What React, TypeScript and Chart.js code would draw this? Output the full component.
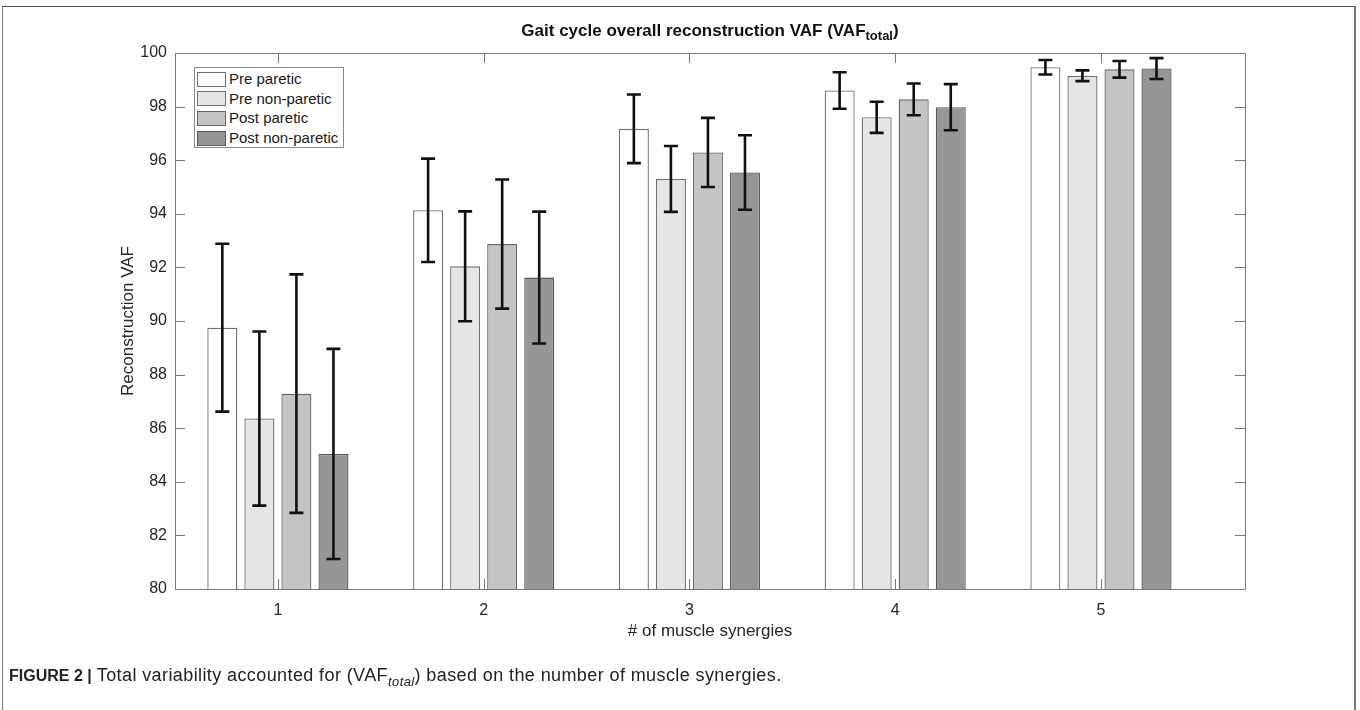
import React, { useEffect, useRef } from "react";
import { Chart, registerables } from "chart.js";

Chart.register(...registerables);

const categories = [1, 2, 3, 4, 5];
const seriesNames = ["Pre paretic", "Pre non-paretic", "Post paretic", "Post non-paretic"];
const seriesColors = ["#ffffff", "#e6e6e6", "#c4c4c4", "#969696"];
const seriesBorders = ["#707070", "#707070", "#666666", "#585858"];

const prePareticMean = [89.75, 94.13, 97.17, 98.6, 99.47];
const preNonPareticMean = [86.36, 92.04, 95.3, 97.6, 99.15];
const postPareticMean = [87.29, 92.87, 96.29, 98.27, 99.39];
const postNonPareticMean = [85.04, 91.62, 95.54, 97.98, 99.42];

const prePareticErr = [3.13, 1.93, 1.28, 0.68, 0.27];
const preNonPareticErr = [3.25, 2.05, 1.23, 0.58, 0.2];
const postPareticErr = [4.45, 2.41, 1.29, 0.59, 0.31];
const postNonPareticErr = [3.92, 2.46, 1.39, 0.86, 0.39];

const yTicks = [80, 82, 84, 86, 88, 90, 92, 94, 96, 98, 100];

const means = [prePareticMean, preNonPareticMean, postPareticMean, postNonPareticMean];
const errs = [prePareticErr, preNonPareticErr, postPareticErr, postNonPareticErr];

const FONT = "'Liberation Sans', Arial, Helvetica, sans-serif";

const errorBarPlugin = {
  id: "errorBars",
  afterDatasetsDraw(chart: any) {
    const ctx = chart.ctx;
    const y = chart.scales.y;
    ctx.save();
    ctx.strokeStyle = "#111111";
    ctx.lineWidth = 2.6;
    chart.data.datasets.forEach((ds: any, di: number) => {
      const meta = chart.getDatasetMeta(di);
      meta.data.forEach((el: any, i: number) => {
        const m = means[di][i];
        const e = errs[di][i];
        const x = el.x;
        const yt = y.getPixelForValue(m + e);
        const yb = y.getPixelForValue(m - e);
        const cap = 7;
        ctx.beginPath();
        ctx.moveTo(x, yt);
        ctx.lineTo(x, yb);
        ctx.moveTo(x - cap, yt);
        ctx.lineTo(x + cap, yt);
        ctx.moveTo(x - cap, yb);
        ctx.lineTo(x + cap, yb);
        ctx.stroke();
      });
    });
    ctx.restore();
  },
};

const axesBoxPlugin = {
  id: "axesBox",
  afterDraw(chart: any) {
    const ctx = chart.ctx;
    const a = chart.chartArea;
    const xs = chart.scales.x;
    const ys = chart.scales.y;
    const L = 10;
    ctx.save();
    ctx.strokeStyle = "#777777";
    ctx.lineWidth = 1;
    ctx.beginPath();
    ctx.rect(Math.round(a.left) + 0.5, Math.round(a.top) + 0.5, Math.round(a.right - a.left), Math.round(a.bottom - a.top));
    xs.ticks.forEach((t: any) => {
      const px = Math.round(xs.getPixelForValue(t.value)) + 0.5;
      ctx.moveTo(px, a.bottom);
      ctx.lineTo(px, a.bottom - L);
      ctx.moveTo(px, a.top);
      ctx.lineTo(px, a.top + L);
    });
    ys.ticks.forEach((t: any) => {
      const py = Math.round(ys.getPixelForValue(t.value)) + 0.5;
      ctx.moveTo(a.left, py);
      ctx.lineTo(a.left + L, py);
      ctx.moveTo(a.right, py);
      ctx.lineTo(a.right - L, py);
    });
    ctx.stroke();
    ctx.restore();
  },
};

function Legend() {
  return (
    <div
      style={{
        position: "absolute",
        left: 194,
        top: 67,
        width: 150,
        height: 81,
        border: "1px solid #8a8a8a",
        background: "#ffffff",
        boxSizing: "border-box",
        fontFamily: FONT,
        fontSize: 15,
        color: "#1a1a1a",
      }}
    >
      {seriesNames.map((n, i) => (
        <div key={n} style={{ position: "absolute", left: 2, top: 2 + i * 19.7, height: 18, display: "flex", alignItems: "center" }}>
          <span
            style={{
              display: "inline-block",
              width: 29,
              height: 15,
              background: seriesColors[i],
              border: `1px solid ${seriesBorders[i]}`,
              boxSizing: "border-box",
              marginRight: 3,
            }}
          />
          <span style={{ whiteSpace: "nowrap", lineHeight: "18px" }}>{n}</span>
        </div>
      ))}
    </div>
  );
}

export default function App() {
  const canvasRef = useRef<HTMLCanvasElement | null>(null);

  useEffect(() => {
    if (!canvasRef.current) return;
    const chart = new Chart(canvasRef.current, {
      type: "bar",
      data: {
        datasets: seriesNames.map((name, si) => ({
          label: name,
          data: categories.map((c, i) => ({ x: c, y: means[si][i] })),
          backgroundColor: seriesColors[si],
          borderColor: seriesBorders[si],
          borderWidth: 1.3,
          borderSkipped: false,
          categoryPercentage: 0.72,
          barPercentage: 0.81,
        })),
      },
      options: {
        animation: false,
        responsive: false,
        maintainAspectRatio: false,
        layout: { padding: { left: 115, right: 115, top: 53, bottom: 68 } },
        plugins: {
          legend: { display: false },
          tooltip: { enabled: false },
          title: { display: false },
        },
        scales: {
          x: {
            type: "linear",
            min: 0.5,
            max: 5.7,
            offset: false,
            grid: { display: false },
            border: { display: false },
            afterBuildTicks: (s: any) => {
              s.ticks = categories.map((c) => ({ value: c }));
            },
            afterFit: (s: any) => {
              s.height = 53;
            },
            ticks: {
              autoSkip: false,
              maxRotation: 0,
              padding: 4,
              color: "#262626",
              font: { family: FONT, size: 16 },
              callback: (v: any) => String(v),
            },
            title: {
              display: true,
              text: "# of muscle synergies",
              color: "#262626",
              font: { family: FONT, size: 17 },
              padding: { top: 0, bottom: 0 },
            },
          },
          y: {
            type: "linear",
            min: 80,
            max: 100,
            grid: { display: false },
            border: { display: false },
            afterBuildTicks: (s: any) => {
              s.ticks = yTicks.map((v) => ({ value: v }));
            },
            afterFit: (s: any) => {
              s.width = 60;
            },
            ticks: {
              padding: 0,
              color: "#262626",
              font: { family: FONT, size: 16 },
            },
            title: {
              display: true,
              text: "Reconstruction VAF",
              color: "#262626",
              font: { family: FONT, size: 17 },
              padding: { top: 3, bottom: 0 },
            },
          },
        },
      },
      plugins: [errorBarPlugin, axesBoxPlugin],
    } as any);
    return () => chart.destroy();
  }, []);

  return (
    <div style={{ position: "absolute", left: 0, top: 0, width: 1360, height: 710, background: "#ffffff", overflow: "hidden" }}>
      <div style={{ position: "absolute", left: 2, top: 6, width: 1354, height: 720, borderTop: "1.5px solid #555", borderLeft: "1.5px solid #777", borderRight: "2px solid #777", boxSizing: "border-box" }} />
      <canvas ref={canvasRef} width={1360} height={710} style={{ position: "absolute", left: 0, top: 0, width: 1360, height: 710 }} />
      <div
        style={{
          position: "absolute",
          left: 0,
          top: 21,
          width: 1420,
          textAlign: "center",
          fontFamily: FONT,
          fontWeight: "bold",
          fontSize: 17,
          color: "#111",
          whiteSpace: "nowrap",
        }}
      >
        Gait cycle overall reconstruction VAF (VAF<sub style={{ fontSize: 13 }}>total</sub>)
      </div>
      <Legend />
      <div
        style={{
          position: "absolute",
          left: 9,
          top: 665,
          fontFamily: FONT,
          fontSize: 18,
          letterSpacing: 0.4,
          color: "#222",
          whiteSpace: "nowrap",
        }}
      >
        <b style={{ fontSize: 16, letterSpacing: 0 }}>FIGURE 2 |</b> Total variability accounted for (VAF<sub style={{ fontStyle: "italic", fontSize: 13 }}>total</sub>) based on the number of muscle synergies.
      </div>
    </div>
  );
}
